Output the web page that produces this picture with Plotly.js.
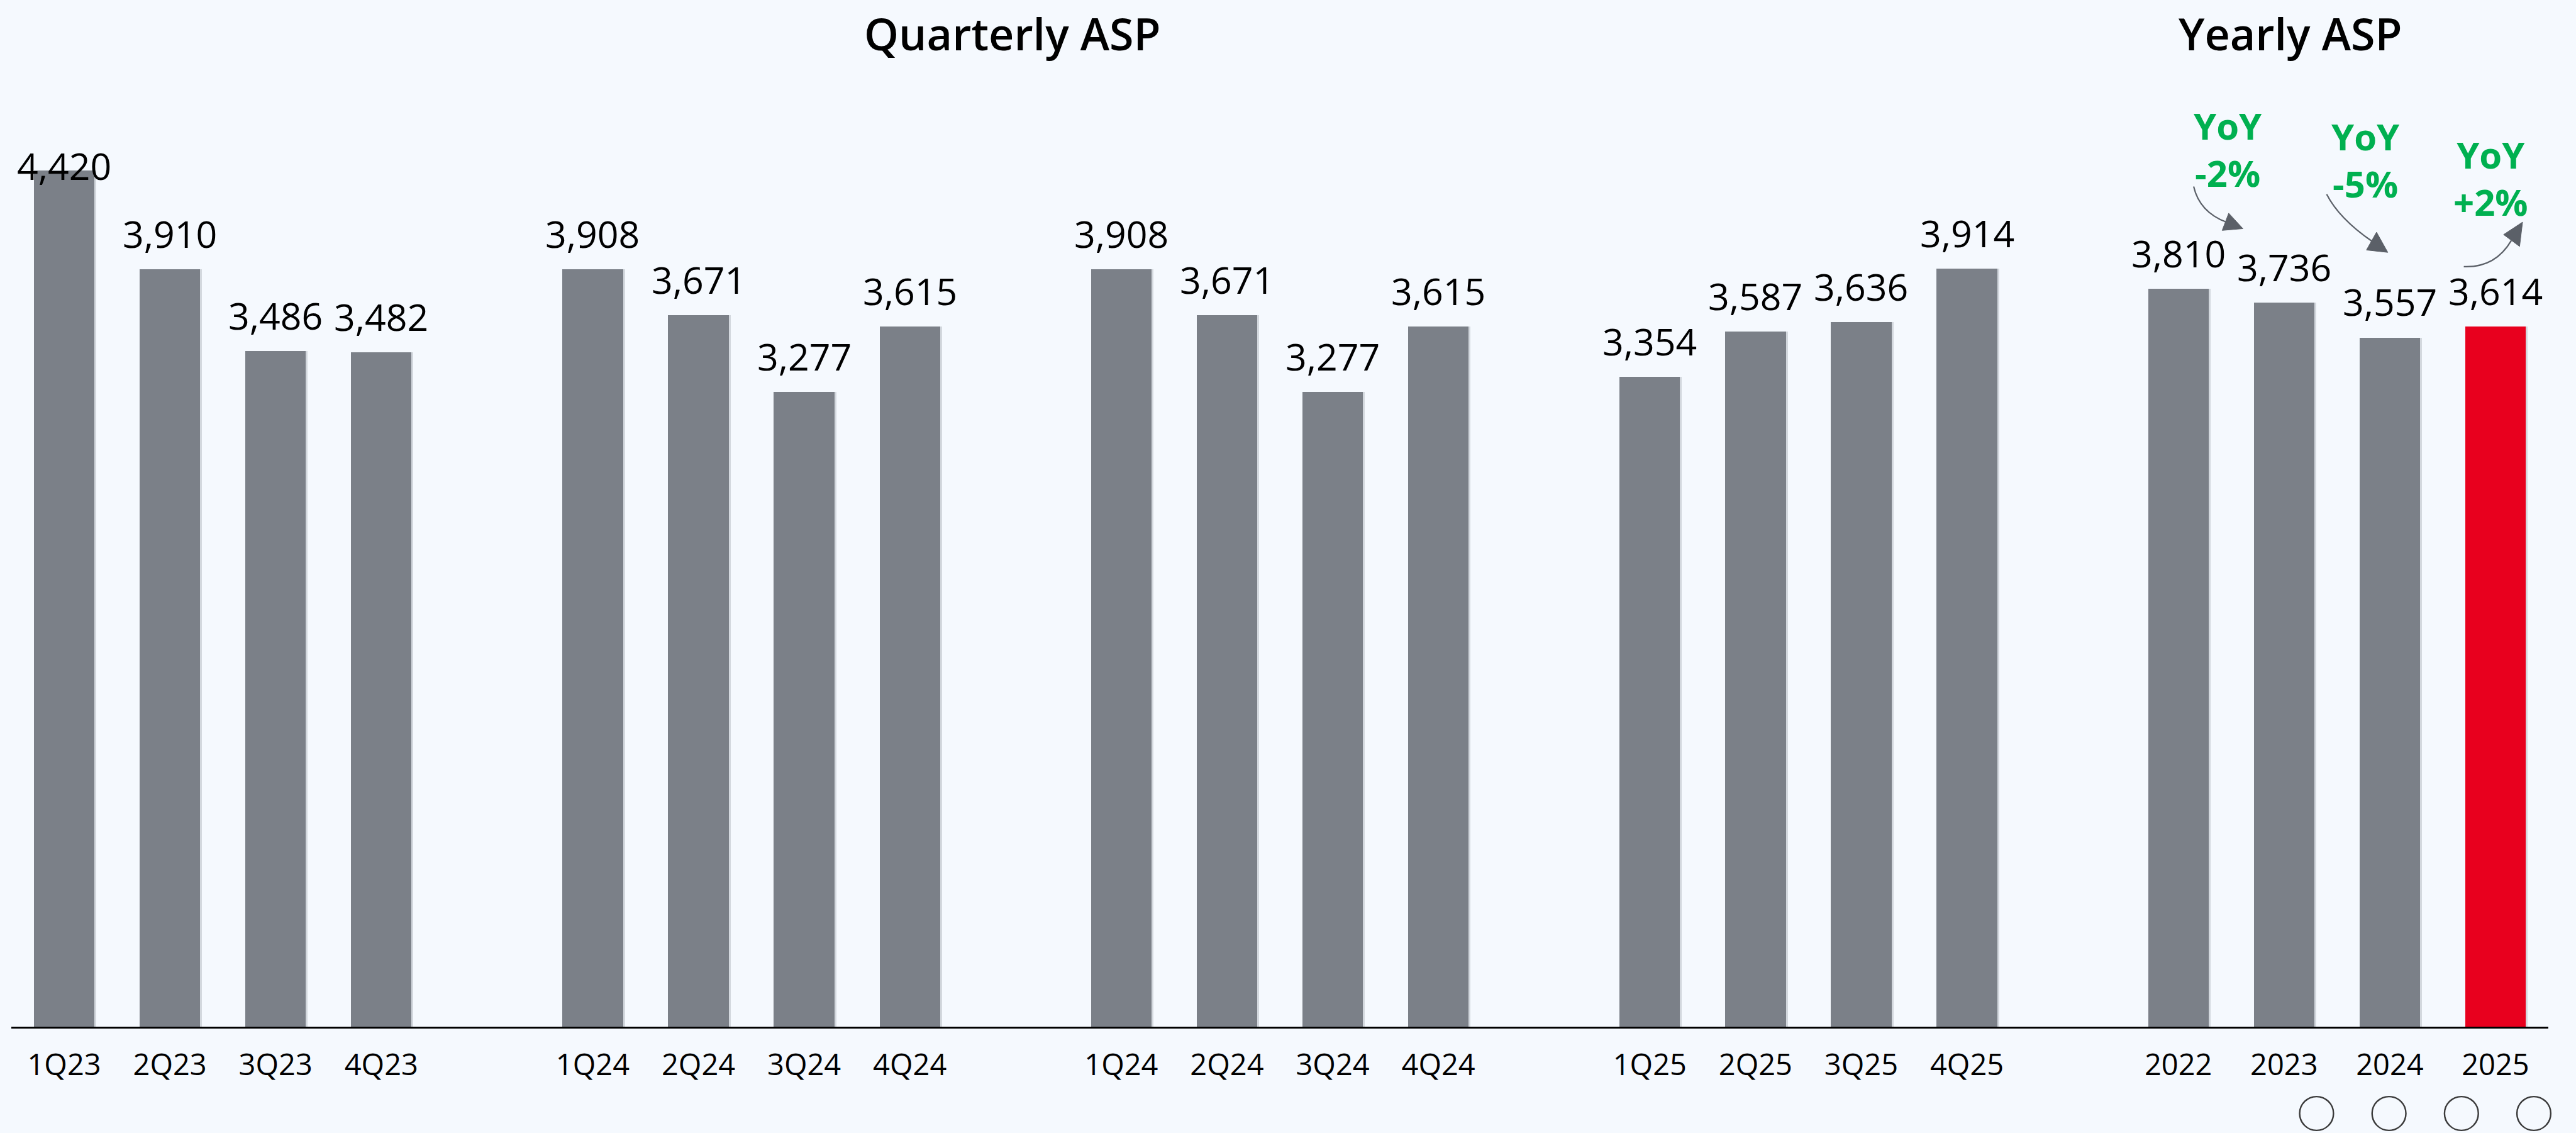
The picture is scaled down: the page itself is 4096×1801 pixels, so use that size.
<!DOCTYPE html>
<html>
<head>
<meta charset="utf-8">
<script src="https://cdn.plot.ly/plotly-3.0.1.min.js"></script>
<style>
  html, body { margin: 0; padding: 0; background: #F5F9FE; }
  #chart { width: 4096px; height: 1801px; }
</style>
</head>
<body>
<div id="chart"></div>
<script>
// ---------------- data ----------------
const q23Labels = ['1Q23', '2Q23', '3Q23', '4Q23'];
const q23Values = [4420, 3910, 3486, 3482];
const q24Labels = ['1Q24', '2Q24', '3Q24', '4Q24'];
const q24Values = [3908, 3671, 3277, 3615];
const q24bLabels = ['1Q24', '2Q24', '3Q24', '4Q24'];
const q24bValues = [3908, 3671, 3277, 3615];
const q25Labels = ['1Q25', '2Q25', '3Q25', '4Q25'];
const q25Values = [3354, 3587, 3636, 3914];
const yearLabels = ['2022', '2023', '2024', '2025'];
const yearValues = [3810, 3736, 3557, 3614];
const yoyTexts = ['YoY<br>-2%', 'YoY<br>-5%', 'YoY<br>+2%'];
const titleTexts = ['Quarterly ASP', 'Yearly ASP'];

// ---------------- geometry helpers ----------------
const W = 4096, H = 1801;
const s = W / 4339;                       // scale from reference
const M = { l: 18, r: 44, t: 142, b: 169 };
const PW = W - M.l - M.r, PH = H - M.t - M.b;
const UNIT_PX = 0.32624 * s;              // pixels per value unit
const YMAX = PH / UNIT_PX;
const px = X => (X * s - M.l) / PW;       // reference px -> paper x
const py = Y => (H - M.b - Y * s) / PH;   // reference px -> paper y

const GRAY = '#7B8088', RED = '#E8001E', GREEN = '#00B050', ARROW = '#5B6068';
const FONT = '"Open Sans", "Noto Sans", Roboto, sans-serif';

// ---------------- build slots ----------------
const groups = [
  { labels: q23Labels, values: q23Values, yearly: false },
  { labels: q24Labels, values: q24Values, yearly: false },
  { labels: q24bLabels, values: q24bValues, yearly: false },
  { labels: q25Labels, values: q25Values, yearly: false },
  { labels: yearLabels, values: yearValues, yearly: true }
];
const xs = [], ys = [], ticks = [], colors = [];
let slot = 0;
groups.forEach(g => {
  g.values.forEach((v, i) => {
    xs.push(slot); ys.push(v); ticks.push(g.labels[i]);
    colors.push(g.yearly && i === g.values.length - 1 ? RED : GRAY);
    slot++;
  });
  slot++; // empty slot between groups
});

// soft shadow behind the bars
const shadow = {
  type: 'bar', x: xs.map(x => x + 0.012), y: ys, width: 0.585,
  marker: { color: 'rgba(60,65,75,0.18)', line: { width: 0 } },
  hoverinfo: 'skip', showlegend: false
};
const trace = {
  type: 'bar', x: xs, y: ys, width: 0.573,
  marker: { color: colors, line: { width: 0 } },
  hoverinfo: 'x+y', showlegend: false
};

// value labels
const LABEL_GAP = 34 / 0.32624;           // gap between bar top and label baseline
const LABEL_CEIL = (1729 - 305) / 0.32624; // highest allowed baseline
const annotations = xs.map((x, i) => ({
  x: x, y: Math.min(ys[i] + LABEL_GAP, LABEL_CEIL), xref: 'x', yref: 'y',
  text: ys[i].toLocaleString('en-US'), showarrow: false,
  xanchor: 'center', yanchor: 'bottom', yshift: -17,
  font: { family: FONT, size: 59, color: '#000' }
}));

// titles
const titlePos = [[1705, 88], [3858, 88]];
titleTexts.forEach((t, i) => annotations.push({
  x: px(titlePos[i][0]), y: py(titlePos[i][1]), xref: 'paper', yref: 'paper',
  text: t, showarrow: false, xanchor: 'center', yanchor: 'bottom', yshift: -20,
  font: { family: FONT, size: 70, color: '#000', weight: 600 }
}));

// YoY texts
const yoyPos = [[3753, 318], [3985, 336], [4195, 366]];
yoyTexts.forEach((t, i) => annotations.push({
  x: px(yoyPos[i][0]), y: py(yoyPos[i][1]), xref: 'paper', yref: 'paper',
  text: t, showarrow: false, xanchor: 'center', yanchor: 'bottom', yshift: -16,
  font: { family: FONT, size: 58, color: GREEN, weight: 700 }
}));

// ---------------- decorative shapes ----------------
const P = (X, Y) => px(X) + ',' + py(Y);
const arrows = [
  { p0: [3695, 314], c: [3705, 357], p2: [3750, 374], head: [[3754, 359], [3778, 385], [3743, 388]] },
  { p0: [3919, 327], c: [3940, 368], p2: [3995, 406], head: [[4003, 391], [4022, 425], [3986, 421]] },
  { p0: [4150, 449], c: [4203, 451], p2: [4230, 405], head: [[4217, 395], [4249, 374], [4244, 415]] }
];
const shapes = [];
arrows.forEach(a => {
  shapes.push({
    type: 'path', xref: 'paper', yref: 'paper',
    path: 'M' + P(...a.p0) + ' Q' + P(...a.c) + ' ' + P(...a.p2),
    line: { color: ARROW, width: 2.2 }
  });
  shapes.push({
    type: 'path', xref: 'paper', yref: 'paper',
    path: 'M' + P(...a.head[0]) + ' L' + P(...a.head[1]) + ' L' + P(...a.head[2]) + ' Z',
    fillcolor: ARROW, line: { color: ARROW, width: 1 }
  });
});
// navigation circles under the yearly axis
[3902, 4024, 4146, 4268].forEach(cx => {
  const r = 28.5;
  shapes.push({
    type: 'circle', xref: 'paper', yref: 'paper',
    x0: px(cx - r), x1: px(cx + r), y0: py(1875 + r), y1: py(1875 - r),
    line: { color: '#3A3A3A', width: 2.4 }, fillcolor: 'rgba(0,0,0,0)'
  });
});

const layout = {
  width: W, height: H,
  margin: M,
  paper_bgcolor: '#F5F9FE', plot_bgcolor: '#F5F9FE',
  bargap: 0, barmode: 'overlay',
  xaxis: {
    range: [-0.5, slot - 1.5], tickvals: xs, ticktext: ticks,
    showgrid: false, zeroline: false, showline: true, linecolor: '#000', linewidth: 3,
    ticks: '', tickfont: { family: FONT, size: 47, color: '#000' },
    ticklabelstandoff: 18, fixedrange: true
  },
  yaxis: {
    range: [0, YMAX], visible: false, showgrid: false, zeroline: false, fixedrange: true
  },
  annotations: annotations,
  shapes: shapes,
  font: { family: FONT }
};

Plotly.newPlot('chart', [shadow, trace], layout, { displayModeBar: false, staticPlot: true });
</script>
</body>
</html>
